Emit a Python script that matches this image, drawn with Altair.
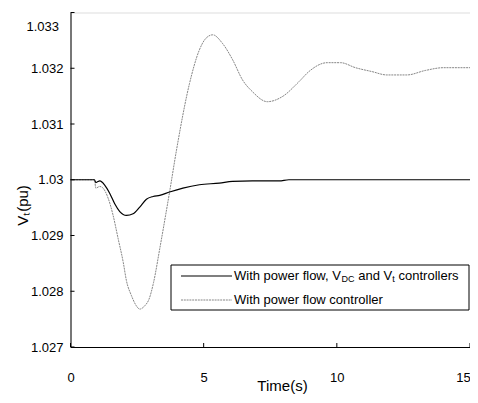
import altair as alt
import pandas as pd

# ---- data ----
t_ctrl = [0, 0.9, 0.95, 1.0, 1.1, 1.29, 1.48, 1.66, 1.85, 2.1, 2.35, 2.6, 2.85, 3.1, 3.35, 3.72,
          4.22, 4.84, 5.59, 6.08, 6.83, 7.83, 8.2, 15]
v_ctrl = [1.03, 1.03, 1.02995, 1.02996, 1.02998, 1.0299, 1.02975, 1.02957, 1.02943, 1.02936,
          1.02939, 1.02951, 1.02965, 1.0297, 1.02972, 1.02978, 1.02985, 1.02991, 1.02994,
          1.02997, 1.02998, 1.02998, 1.03, 1.03]

t_pf = [0, 0.9, 0.95, 1.1, 1.2, 1.42, 1.6, 1.79, 1.98, 2.1, 2.29, 2.47, 2.6, 2.79, 2.95, 3.12,
        3.35, 3.57, 3.72, 3.99, 4.47, 4.84, 5.09, 5.34, 5.7, 6.09, 6.46, 6.83, 7.39, 7.95, 8.58,
        8.95, 9.64, 10.14, 10.7, 11.32, 11.88, 12.63, 13.32, 14.0, 15]
v_pf = [1.03, 1.03, 1.02985, 1.02988, 1.02986, 1.02966, 1.02936, 1.02894, 1.02852, 1.02819,
        1.02792, 1.02774, 1.02768, 1.02774, 1.02786, 1.02816, 1.02876, 1.02936, 1.02978,
        1.03056, 1.03173, 1.03233, 1.03254, 1.0326, 1.03245, 1.03215, 1.03179, 1.03158,
        1.0314, 1.03149, 1.03176, 1.03194, 1.0321, 1.0321, 1.03201, 1.03194, 1.03188,
        1.03188, 1.03196, 1.03201, 1.03201]

x_ticks = [0, 5, 10, 15]
y_ticks = [1.027, 1.028, 1.029, 1.03, 1.031, 1.032, 1.033]

series_names = ["With power flow, VDC and Vt controllers", "With power flow controller"]

W, H = 399.5, 334.5
FONT = "Liberation Sans, Arial, sans-serif"
GRAY = "#868686"
DASH = [2, 0.8]

df_ctrl = pd.DataFrame({"t": t_ctrl, "v": v_ctrl, "series": series_names[0]})
df_pf = pd.DataFrame({"t": t_pf, "v": v_pf, "series": series_names[1]})

xscale = alt.Scale(domain=[0, 15], nice=False, zero=False)
yscale = alt.Scale(domain=[1.027, 1.033], nice=False, zero=False)

xaxis = alt.Axis(values=x_ticks, ticks=False, grid=False, domainColor="black", domainWidth=1,
                 labelFont=FONT, labelFontSize=13, labelColor="black", labelBaseline="middle",
                 labelPadding=30, labelFlush=False, labelOverlap=False,
                 labelOffset={"condition": {"test": "datum.value > 14", "value": -7}, "value": 0},
                 title="Time(s)", titleFont=FONT, titleFontSize=15, titleFontWeight="normal",
                 titleColor="black", titleX=211.5, titleY=38, titleBaseline="middle",
                 titleAlign="center")
yaxis = alt.Axis(values=y_ticks, format=".3~f", ticks=False, grid=False, domainColor="black",
                 domainWidth=1, labelFont=FONT, labelFontSize=13, labelColor="black",
                 labelFlush=False, labelOverlap=False,
                 labelPadding={"condition": {"test": "datum.value > 1.0325", "value": 12}, "value": 7.5},
                 labelOffset={"condition": {"test": "datum.value > 1.0325", "value": 14}, "value": 0},
                 title="Vₜ(pu)", titleFont=FONT, titleFontSize=15, titleFontWeight="normal",
                 titleColor="black", titleAngle=270, titleX=-48.5, titleY=192.5,
                 titleBaseline="middle", titleAlign="center")

line_ctrl = alt.Chart(df_ctrl).mark_line(color="black", strokeWidth=1.2, interpolate="monotone").encode(
    x=alt.X("t:Q", scale=xscale, axis=xaxis),
    y=alt.Y("v:Q", scale=yscale, axis=yaxis),
)
line_pf = alt.Chart(df_pf).mark_line(color=GRAY, strokeWidth=1.0, strokeDash=DASH,
                                     interpolate="monotone").encode(
    x=alt.X("t:Q", scale=xscale),
    y=alt.Y("v:Q", scale=yscale),
)

ytick_marks = alt.Chart(pd.DataFrame({"v": y_ticks})).mark_rule(color="black", strokeWidth=1).encode(
    y=alt.Y("v:Q", scale=yscale), x=alt.value(0), x2=alt.value(4))
xtick_marks = alt.Chart(pd.DataFrame({"t": x_ticks})).mark_rule(color="black", strokeWidth=1).encode(
    x=alt.X("t:Q", scale=xscale), y=alt.value(H), y2=alt.value(H - 4))

one = pd.DataFrame({"a": [0]})
leg_box = alt.Chart(one).mark_rect(fill="white", stroke="black", strokeWidth=1).encode(
    x=alt.value(100.5), x2=alt.value(398.5), y=alt.value(252.5), y2=alt.value(297.5))
leg_l1 = alt.Chart(one).mark_rule(color="black", strokeWidth=1.2).encode(
    x=alt.value(110.5), x2=alt.value(161.5), y=alt.value(263.5))
leg_l2 = alt.Chart(one).mark_rule(color=GRAY, strokeWidth=1.0, strokeDash=DASH).encode(
    x=alt.value(110.5), x2=alt.value(161.5), y=alt.value(287.5))

def txt(s, x, y, size=13, dy=0):
    return alt.Chart(one).mark_text(text=s, font=FONT, fontSize=size, color="black", align="left",
                                    baseline="middle", dy=dy).encode(x=alt.value(x), y=alt.value(y))

x0 = 163.5
legend_texts = [
    txt("With power flow, V", x0, 263.5),
    txt("DC", x0 + 107.6, 263.5, size=9, dy=3),
    txt("and V", x0 + 124.3, 263.5),
    txt("t", x0 + 158.3, 263.5, size=9, dy=3),
    txt("controllers", x0 + 164.5, 263.5),
    txt("With power flow controller", x0, 287.5),
]

chart = alt.layer(line_pf, line_ctrl, ytick_marks, xtick_marks, leg_box, leg_l1, leg_l2,
                  *legend_texts).properties(
    width=W, height=H,
    autosize=alt.AutoSizeParams(type="none"),
    padding={"left": 62.5, "top": 4.5, "right": 0, "bottom": 48},
).configure_view(stroke=None).configure(background="white")

chart.save("out.html", embed_options={"renderer": "svg", "actions": False})
